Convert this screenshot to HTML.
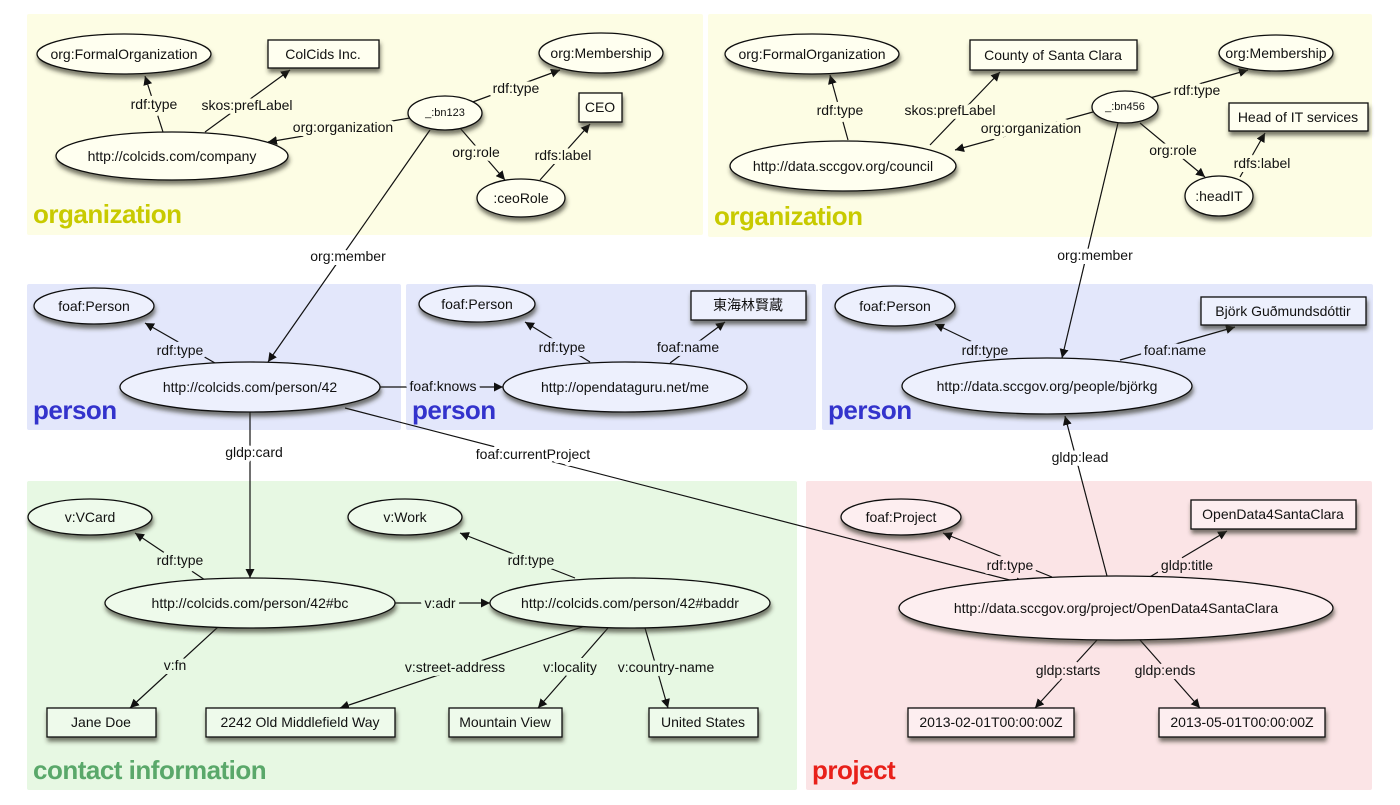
<!DOCTYPE html>
<html><head><meta charset="utf-8"><style>
html,body{margin:0;padding:0;background:#fff}
svg{display:block}
text{font-family:"Liberation Sans","Noto Sans CJK JP",sans-serif;font-size:14px;fill:#111;text-anchor:middle;dominant-baseline:central}
.lbl{paint-order:stroke;stroke-width:8px;stroke-linejoin:round}
.big{font-size:26px;font-weight:bold;text-anchor:start;letter-spacing:-0.5px}
.e{stroke:#111;stroke-width:1.2;fill:none;marker-end:url(#a)}
.n{stroke:#111;stroke-width:1.3}
</style></head><body>
<svg width="1400" height="805" viewBox="0 0 1400 805" xmlns="http://www.w3.org/2000/svg">
<defs>
<marker id="a" viewBox="0 0 10 10" refX="10" refY="5" markerWidth="9" markerHeight="9" markerUnits="userSpaceOnUse" orient="auto"><path d="M0,0L10,5L0,10z" fill="#111"/></marker>
<filter id="s" x="-20%" y="-30%" width="140%" height="180%"><feDropShadow dx="1" dy="4" stdDeviation="2" flood-color="#332" flood-opacity="0.65"/></filter>
</defs>
<rect x="27" y="14" width="676" height="221" fill="#fdfde4" rx="2"/>
<rect x="708" y="14" width="664" height="223" fill="#fdfde4" rx="2"/>
<rect x="27" y="284" width="374" height="146" fill="#e3e7fb" rx="2"/>
<rect x="406" y="284" width="410" height="146" fill="#e3e7fb" rx="2"/>
<rect x="822" y="284" width="551" height="146" fill="#e3e7fb" rx="2"/>
<rect x="27" y="481" width="770" height="309" fill="#e7f8e3" rx="2"/>
<rect x="806" y="481" width="566" height="309" fill="#fbe4e6" rx="2"/>
<text class="big" x="33" y="214" style="fill:#c8ca00">organization</text>
<text class="big" x="714" y="216" style="fill:#c8ca00">organization</text>
<text class="big" x="33" y="410" style="fill:#3333cc">person</text>
<text class="big" x="412" y="410" style="fill:#3333cc">person</text>
<text class="big" x="828" y="410" style="fill:#3333cc">person</text>
<text class="big" x="33" y="770" style="fill:#5aa86a">contact information</text>
<text class="big" x="812" y="770" style="fill:#e8201a">project</text>

<g>
<line class="e" x1="163" y1="132" x2="145" y2="76"/>
<line class="e" x1="205" y1="132" x2="290" y2="70"/>
<line class="e" x1="410" y1="118" x2="268" y2="142"/>
<line class="e" x1="470" y1="103" x2="560" y2="70"/>
<line class="e" x1="460" y1="128" x2="505" y2="180"/>
<line class="e" x1="540" y1="180" x2="590" y2="124"/>
<line class="e" x1="430" y1="130" x2="268" y2="362"/>
<line class="e" x1="848" y1="140" x2="830" y2="75"/>
<line class="e" x1="930" y1="145" x2="1000" y2="72"/>
<line class="e" x1="1093" y1="112" x2="955" y2="150"/>
<line class="e" x1="1150" y1="98" x2="1248" y2="70"/>
<line class="e" x1="1140" y1="123" x2="1205" y2="177"/>
<line class="e" x1="1240" y1="177" x2="1265" y2="133"/>
<line class="e" x1="1118" y1="123" x2="1062" y2="358"/>
<line class="e" x1="215" y1="363" x2="145" y2="323"/>
<line class="e" x1="380" y1="387" x2="503" y2="387"/>
<line class="e" x1="590" y1="362" x2="525" y2="322"/>
<line class="e" x1="670" y1="363" x2="725" y2="322"/>
<line class="e" x1="1010" y1="360" x2="935" y2="324"/>
<line class="e" x1="1120" y1="360" x2="1235" y2="327"/>
<line class="e" x1="1107" y1="576" x2="1065" y2="416"/>
<line class="e" x1="250" y1="412" x2="250" y2="578"/>
<line class="e" x1="345" y1="408" x2="1025" y2="584"/>
<line class="e" x1="205" y1="580" x2="135" y2="533"/>
<line class="e" x1="395" y1="603" x2="490" y2="603"/>
<line class="e" x1="575" y1="578" x2="460" y2="533"/>
<line class="e" x1="218" y1="627" x2="130" y2="708"/>
<line class="e" x1="585" y1="626" x2="340" y2="708"/>
<line class="e" x1="608" y1="628" x2="538" y2="708"/>
<line class="e" x1="645" y1="628" x2="668" y2="708"/>
<line class="e" x1="1052" y1="577" x2="943" y2="533"/>
<line class="e" x1="1148" y1="578" x2="1227" y2="531"/>
<line class="e" x1="1097" y1="640" x2="1035" y2="708"/>
<line class="e" x1="1140" y1="640" x2="1200" y2="708"/>
</g>

<text class="lbl" x="154" y="104" style="stroke:#fdfde4">rdf:type</text>
<text class="lbl" x="247" y="105" style="stroke:#fdfde4">skos:prefLabel</text>
<text class="lbl" x="343" y="127" style="stroke:#fdfde4">org:organization</text>
<text class="lbl" x="516" y="88" style="stroke:#fdfde4">rdf:type</text>
<text class="lbl" x="476" y="152" style="stroke:#fdfde4">org:role</text>
<text class="lbl" x="563" y="155" style="stroke:#fdfde4">rdfs:label</text>
<text class="lbl" x="840" y="110" style="stroke:#fdfde4">rdf:type</text>
<text class="lbl" x="950" y="110" style="stroke:#fdfde4">skos:prefLabel</text>
<text class="lbl" x="1031" y="128" style="stroke:#fdfde4">org:organization</text>
<text class="lbl" x="1197" y="90" style="stroke:#fdfde4">rdf:type</text>
<text class="lbl" x="1173" y="150" style="stroke:#fdfde4">org:role</text>
<text class="lbl" x="1262" y="163" style="stroke:#fdfde4">rdfs:label</text>
<text class="lbl" x="348" y="256" style="stroke:#fff">org:member</text>
<text class="lbl" x="1095" y="255" style="stroke:#fff">org:member</text>
<text class="lbl" x="254" y="452" style="stroke:#fff">gldp:card</text>
<text class="lbl" x="533" y="454" style="stroke:#fff">foaf:currentProject</text>
<text class="lbl" x="1080" y="457" style="stroke:#fff">gldp:lead</text>
<text class="lbl" x="180" y="350" style="stroke:#e3e7fb">rdf:type</text>
<text class="lbl" x="562" y="347" style="stroke:#e3e7fb">rdf:type</text>
<text class="lbl" x="688" y="347" style="stroke:#e3e7fb">foaf:name</text>
<text class="lbl" x="443" y="386" style="stroke:#e3e7fb">foaf:knows</text>
<text class="lbl" x="985" y="350" style="stroke:#e3e7fb">rdf:type</text>
<text class="lbl" x="1175" y="350" style="stroke:#e3e7fb">foaf:name</text>
<text class="lbl" x="180" y="560" style="stroke:#e7f8e3">rdf:type</text>
<text class="lbl" x="531" y="560" style="stroke:#e7f8e3">rdf:type</text>
<text class="lbl" x="440" y="603" style="stroke:#e7f8e3">v:adr</text>
<text class="lbl" x="175" y="665" style="stroke:#e7f8e3">v:fn</text>
<text class="lbl" x="455" y="667" style="stroke:#e7f8e3">v:street-address</text>
<text class="lbl" x="570" y="667" style="stroke:#e7f8e3">v:locality</text>
<text class="lbl" x="666" y="667" style="stroke:#e7f8e3">v:country-name</text>
<text class="lbl" x="1010" y="565" style="stroke:#fbe4e6">rdf:type</text>
<text class="lbl" x="1187" y="565" style="stroke:#fbe4e6">gldp:title</text>
<text class="lbl" x="1068" y="670" style="stroke:#fbe4e6">gldp:starts</text>
<text class="lbl" x="1165" y="670" style="stroke:#fbe4e6">gldp:ends</text>

<g fill="#fffff0" filter="url(#s)">
<ellipse class="n" cx="124" cy="54" rx="87" ry="20"/>
<rect class="n" x="268" y="40" width="111" height="28"/>
<ellipse class="n" cx="601" cy="53" rx="62" ry="20"/>
<ellipse class="n" cx="445" cy="113" rx="37" ry="17"/>
<rect class="n" x="579" y="93" width="43" height="29"/>
<ellipse class="n" cx="172" cy="156" rx="116" ry="24"/>
<ellipse class="n" cx="521" cy="198" rx="44" ry="19"/>
<ellipse class="n" cx="812" cy="54" rx="87" ry="20"/>
<rect class="n" x="970" y="40" width="167" height="30"/>
<ellipse class="n" cx="1276" cy="53" rx="57" ry="18"/>
<ellipse class="n" cx="1125" cy="107" rx="33" ry="16"/>
<rect class="n" x="1229" y="103" width="139" height="28"/>
<ellipse class="n" cx="843" cy="166" rx="113" ry="25"/>
<ellipse class="n" cx="1219" cy="196" rx="34" ry="20"/>
</g>
<g fill="#edf0fd" filter="url(#s)">
<ellipse class="n" cx="94" cy="306" rx="60" ry="18"/>
<ellipse class="n" cx="250" cy="387" rx="130" ry="25"/>
<ellipse class="n" cx="477" cy="304" rx="58" ry="18"/>
<rect class="n" x="691" y="291" width="115" height="29"/>
<ellipse class="n" cx="625" cy="387" rx="122" ry="25"/>
<ellipse class="n" cx="895" cy="306" rx="60" ry="20"/>
<rect class="n" x="1201" y="297" width="165" height="28"/>
<ellipse class="n" cx="1047" cy="386" rx="145" ry="28"/>
</g>
<g fill="#eefaeb" filter="url(#s)">
<ellipse class="n" cx="90" cy="517" rx="62" ry="18"/>
<ellipse class="n" cx="405" cy="517" rx="57" ry="18"/>
<ellipse class="n" cx="250" cy="603" rx="145" ry="25"/>
<ellipse class="n" cx="630" cy="603" rx="140" ry="25"/>
<rect class="n" x="47" y="708" width="109" height="29"/>
<rect class="n" x="206" y="708" width="189" height="29"/>
<rect class="n" x="449" y="708" width="113" height="29"/>
<rect class="n" x="649" y="708" width="109" height="29"/>
</g>
<g fill="#fdeef0" filter="url(#s)">
<ellipse class="n" cx="901" cy="517" rx="60" ry="18"/>
<rect class="n" x="1191" y="500" width="165" height="29"/>
<ellipse class="n" cx="1116" cy="608" rx="217" ry="32"/>
<rect class="n" x="908" y="708" width="166" height="29"/>
<rect class="n" x="1159" y="708" width="166" height="29"/>
</g>

<text x="124" y="54">org:FormalOrganization</text>
<text x="323" y="54">ColCids Inc.</text>
<text x="601" y="53">org:Membership</text>
<text x="445" y="113" style="font-size:11px">_:bn123</text>
<text x="600" y="107">CEO</text>
<text x="172" y="156">http://colcids.com/company</text>
<text x="521" y="198">:ceoRole</text>
<text x="812" y="54">org:FormalOrganization</text>
<text x="1053" y="55">County of Santa Clara</text>
<text x="1276" y="53">org:Membership</text>
<text x="1125" y="107" style="font-size:11px">_:bn456</text>
<text x="1298" y="117">Head of IT services</text>
<text x="843" y="166">http://data.sccgov.org/council</text>
<text x="1219" y="196">:headIT</text>
<text x="94" y="306">foaf:Person</text>
<text x="250" y="387">http://colcids.com/person/42</text>
<text x="477" y="304">foaf:Person</text>
<text x="748" y="305">東海林賢蔵</text>
<text x="625" y="387">http://opendataguru.net/me</text>
<text x="895" y="306">foaf:Person</text>
<text x="1283" y="311">Björk Guðmundsdóttir</text>
<text x="1047" y="386">http://data.sccgov.org/people/björkg</text>
<text x="90" y="517">v:VCard</text>
<text x="405" y="517">v:Work</text>
<text x="250" y="603">http://colcids.com/person/42#bc</text>
<text x="630" y="603">http://colcids.com/person/42#baddr</text>
<text x="101" y="722">Jane Doe</text>
<text x="300" y="722">2242 Old Middlefield Way</text>
<text x="505" y="722">Mountain View</text>
<text x="703" y="722">United States</text>
<text x="901" y="517">foaf:Project</text>
<text x="1273" y="514">OpenData4SantaClara</text>
<text x="1116" y="608">http://data.sccgov.org/project/OpenData4SantaClara</text>
<text x="991" y="722">2013-02-01T00:00:00Z</text>
<text x="1242" y="722">2013-05-01T00:00:00Z</text>
</svg>
</body></html>
